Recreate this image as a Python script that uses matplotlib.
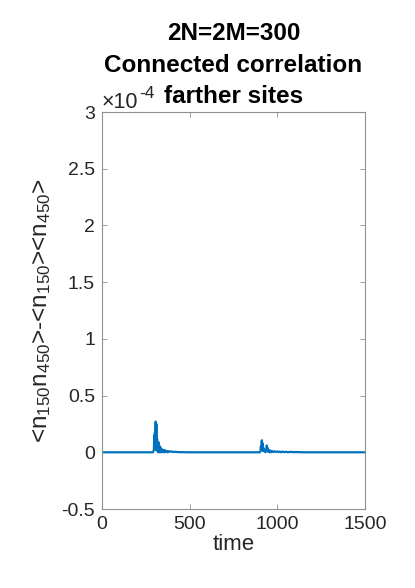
import matplotlib
matplotlib.use("Agg")
import matplotlib.pyplot as plt
from matplotlib.ticker import FixedLocator

# Data (values in units of 1e-4)
time = [0, 290, 296, 298, 300, 302, 304, 306, 308, 310, 312, 314, 316, 318,
        320, 322, 324, 326, 328, 330, 332, 334, 336, 338, 340, 343, 346, 349,
        352, 355, 358, 361, 365, 370, 375, 380, 388, 396, 405, 415, 430, 450,
        500, 600, 700, 800, 880, 900, 904, 906, 908, 910, 912, 914, 916, 918,
        920, 924, 928, 932, 936, 938, 940, 942, 944, 948, 952, 956, 960, 964,
        968, 975, 982, 990, 998, 1006, 1014, 1022, 1030, 1040, 1050, 1060,
        1075, 1090, 1110, 1150, 1200, 1300, 1400, 1500]
corr = [0, 0, 0.02, 0.15, 0.04, 0.18, 0.03, 0.27, 0.02, 0.25, 0.04, 0.12,
        0.01, 0.08, 0.0, 0.09, 0.01, 0.06, 0.0, 0.05, 0.01, 0.04, 0.0, 0.03,
        0.01, 0.025, 0.0, 0.02, 0.005, 0.02, 0.0, 0.015, 0.005, 0.012, 0.0,
        0.01, 0.004, 0.008, 0.002, 0.005, 0.002, 0.001,
        0.0, 0.0, 0.0, 0.0, 0.0, 0.0, 0.01, 0.05, 0.02, 0.09, 0.106, 0.03,
        0.08, 0.01, 0.04, 0.01, 0.02, 0.0, 0.015, 0.03, 0.06, 0.01, 0.04,
        0.005, 0.02, 0.0, 0.015, 0.0, 0.012, 0.003, 0.01, 0.002, 0.008,
        0.001, 0.007, 0.0, 0.006, 0.001, 0.005, 0.0, 0.004, 0.001, 0.002,
        0.0, 0.0, 0.0, 0.0, 0.0]

xticks = [0, 500, 1000, 1500]
yticks = [-0.5, 0, 0.5, 1, 1.5, 2, 2.5, 3]
ytick_labels = ["-0.5", "0", "0.5", "1", "1.5", "2", "2.5", "3"]
title_lines = ['2N=2M=300', 'Connected correlation', 'farther sites']

plt.rcParams['font.family'] = ['Liberation Sans', 'DejaVu Sans']
plt.rcParams['mathtext.fontset'] = 'custom'
plt.rcParams['mathtext.rm'] = 'Liberation Sans'
plt.rcParams['mathtext.it'] = 'Liberation Sans'

fig = plt.figure(figsize=(4.15, 5.88), dpi=100)
ax = fig.add_axes([102/415, 1-509/588, 263/415, 397/588])

ax.plot(time, corr, color='#0072BD', linewidth=1.6)

ax.set_xlim(0, 1500)
ax.set_ylim(-0.5, 3)
ax.xaxis.set_major_locator(FixedLocator(xticks))
ax.set_yticks(yticks)
ax.set_yticklabels(ytick_labels)
ax.tick_params(direction='in', length=3.5, width=0.6, colors='#909090',
               labelcolor='#262626', labelsize=14, top=True, right=True, pad=5)
for s in ax.spines.values():
    s.set_color('#909090')
    s.set_linewidth(0.8)

ax.set_xlabel('time', fontsize=16, color='#262626', labelpad=1)
ax.set_ylabel(r'<n$_{\mathrm{150}}$n$_{\mathrm{450}}$>-<n$_{\mathrm{150}}$><n$_{\mathrm{450}}$>',
              fontsize=17.5, color='#262626', labelpad=6)

cx = (102 + 365) / 2 / 415
for txt, yb in zip(title_lines, [40, 72, 103]):
    fig.text(cx, 1-yb/588, txt, ha='center', va='baseline',
             fontsize=17.5, fontweight='bold')
fig.text(102/415, 1-108/588, '\u00d710', ha='left', va='baseline',
         fontsize=15.5, color='#262626')
fig.text(139/415, 1-98/588, '-4', ha='left', va='baseline',
         fontsize=12.5, color='#262626')

fig.savefig('out.png', dpi=100)
